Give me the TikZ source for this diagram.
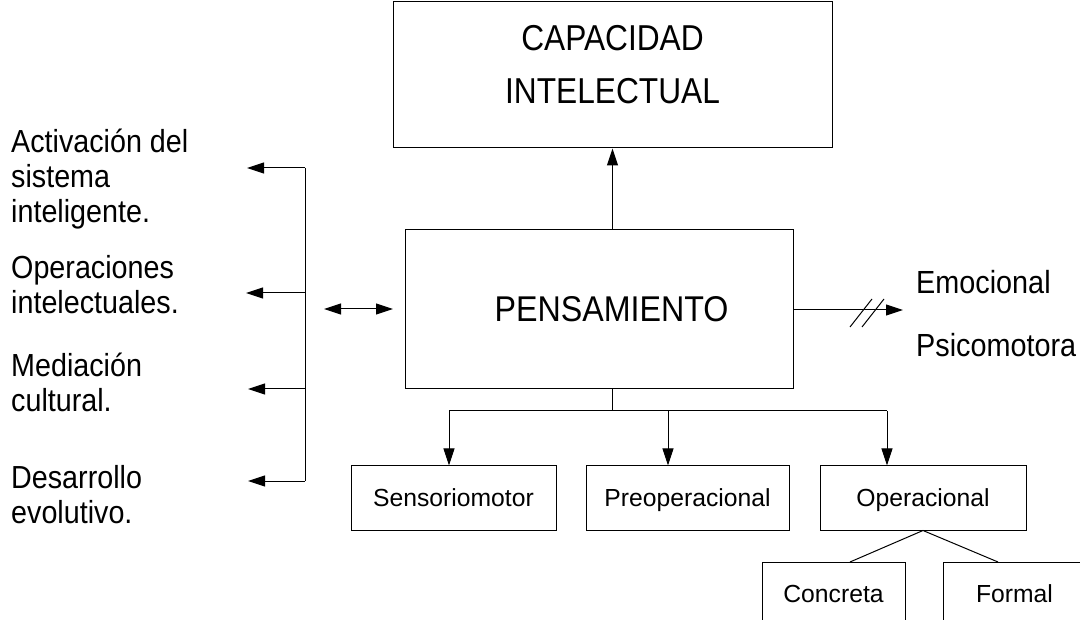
\documentclass[tikz,border=0pt]{standalone}
\usepackage{fontspec}
\setmainfont{Liberation Sans}
\newfontfamily\tallfont{Liberation Sans}[FakeStretch=0.9]
\newfontfamily\tallerfont{Liberation Sans}[FakeStretch=0.88]
\usetikzlibrary{arrows.meta}
\begin{document}
\begin{tikzpicture}[x=1pt,y=-1pt,
  box/.style={draw, line width=1pt, inner sep=0pt, align=center},
  smallbox/.style={box, minimum height=64pt, text height=17.7pt, text depth=0pt, font=\fontsize{24.7}{30}\selectfont},
  arr/.style={-{Triangle[length=17pt,width=11pt]}, line width=1pt},
  darr/.style={{Triangle[length=17pt,width=11pt]}-{Triangle[length=17pt,width=11pt]}, line width=1pt},
  conn/.style={line width=1pt},
  lbl/.style={anchor=base west, align=left, inner sep=0pt, font=\tallfont\fontsize{31.9}{35}\selectfont},
  rlbl/.style={anchor=base west, inner sep=0pt, font=\tallfont\fontsize{32}{35}\selectfont}]
\path[use as bounding box, clip] (0,0) rectangle (1080,620);
\fill[white] (0,0) rectangle (1080,620);

% main boxes
\node[box, minimum width=439pt, minimum height=146pt, text depth=21pt, font=\tallerfont\fontsize{36}{53}\selectfont] (cap) at (612.5,75) {CAPACIDAD\\INTELECTUAL};
\node[box, minimum width=388pt, minimum height=159pt, font=\tallfont\fontsize{35.8}{40}\selectfont] (pens) at (599,309.5) {\hspace*{25pt}PENSAMIENTO};

% stage boxes
\node[smallbox, minimum width=205pt] (sen) at (453.5,498) {Sensoriomotor};
\node[smallbox, minimum width=203pt] (pre) at (687.5,498) {Preoperacional};
\node[smallbox, minimum width=206pt] (ope) at (923,498) {Operacional};
\node[smallbox, minimum width=143pt] (con) at (833.5,594) {Concreta};
\node[smallbox, minimum width=143pt] (for) at (1014.5,594) {Formal};

% up arrow
\draw[arr] (cap.south |- pens.north) -- (cap.south);

% tree below
\coordinate (j) at (612.5,411);
\coordinate (b1) at (449,411);
\coordinate (b2) at (668,411);
\coordinate (b3) at (887,411);
\draw[conn] (j |- pens.south) -- (j);
\draw[conn] (b1) -- (b3);
\draw[arr] (b1) -- (b1 |- sen.north);
\draw[arr] (b2) -- (b2 |- pre.north);
\draw[arr] (b3) -- (b3 |- ope.north);

% operacional children
\coordinate (c1) at (850,562);
\coordinate (c2) at (998,562);
\draw[conn] (c1) -- (ope.south) -- (c2);

% left bracket
\coordinate (v1) at (305,168);
\coordinate (v2) at (305,293);
\coordinate (v3) at (305,389);
\coordinate (v4) at (305,481);
\coordinate (t1) at (247,168);
\coordinate (t2) at (246,293);
\coordinate (t3) at (248,389);
\coordinate (t4) at (248,481);
\draw[conn] (v1) -- (v4);
\draw[arr] (v1) -- (t1);
\draw[arr] (v2) -- (t2);
\draw[arr] (v3) -- (t3);
\draw[arr] (v4) -- (t4);

% double arrow
\coordinate (d1) at (324,309);
\coordinate (d2) at (393,309);
\draw[darr] (d1) -- (d2);

% right arrow with slashes
\coordinate (e) at (903,310);
\draw[arr] (pens.east |- e) -- (e);
\draw[conn] (850,327) -- (872,299);
\draw[conn] (862,327) -- (884,299);

% left labels (anchored at the baseline of their last line)
\node[lbl] (l1) at (11,223) {Activación del\\sistema\\inteligente.};
\node[lbl] (l2) at (11,314) {Operaciones\\intelectuales.};
\node[lbl] (l3) at (11,412) {Mediación\\cultural.};
\node[lbl] (l4) at (11,523) {Desarrollo\\evolutivo.};

% right labels
\node[rlbl] (emo) at (916,294) {Emocional};
\node[rlbl] (psi) at (916,357) {Psicomotora};
\end{tikzpicture}
\end{document}
